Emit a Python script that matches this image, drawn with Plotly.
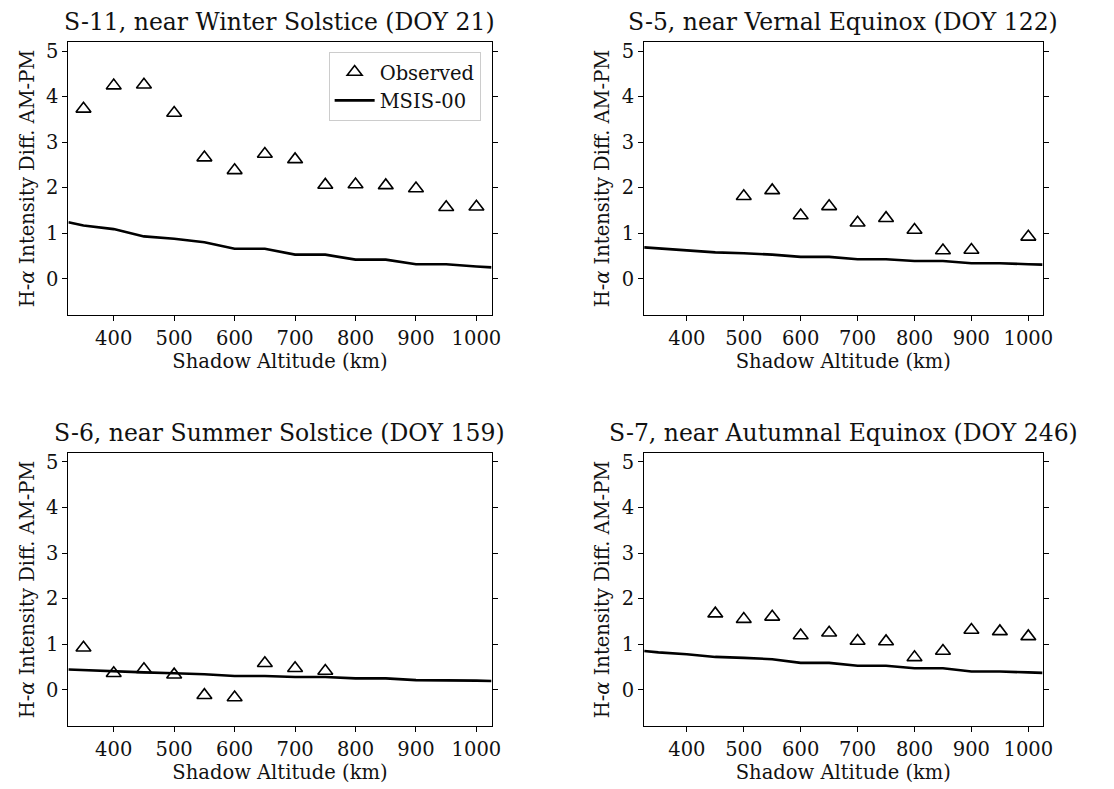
import plotly.graph_objects as go

# Shadow altitude grid (km) for the model curve
alt_model = [325, 350, 400, 450, 500, 550, 600, 650, 700, 750, 800, 850, 900, 950, 1000, 1025]

# S-11, near Winter Solstice (DOY 21)
s11_alt = [350, 400, 450, 500, 550, 600, 650, 700, 750, 800, 850, 900, 950, 1000]
s11_obs = [3.73, 4.24, 4.26, 3.64, 2.66, 2.38, 2.74, 2.62, 2.06, 2.07, 2.05, 1.98, 1.57, 1.58]
s11_msis = [1.24, 1.17, 1.09, 0.93, 0.88, 0.80, 0.66, 0.66, 0.53, 0.53, 0.42, 0.42, 0.32, 0.32, 0.27, 0.25]

# S-5, near Vernal Equinox (DOY 122)
s5_alt = [500, 550, 600, 650, 700, 750, 800, 850, 900, 1000]
s5_obs = [1.81, 1.94, 1.39, 1.59, 1.23, 1.33, 1.07, 0.62, 0.63, 0.92]
s5_msis = [0.69, 0.67, 0.635, 0.58, 0.56, 0.53, 0.48, 0.48, 0.43, 0.43, 0.39, 0.39, 0.34, 0.34, 0.32, 0.31]

# S-6, near Summer Solstice (DOY 159)
s6_alt = [350, 400, 450, 500, 550, 600, 650, 700, 750]
s6_obs = [0.92, 0.36, 0.45, 0.33, -0.12, -0.17, 0.58, 0.47, 0.41]
s6_msis = [0.445, 0.43, 0.41, 0.38, 0.36, 0.34, 0.30, 0.30, 0.28, 0.28, 0.25, 0.25, 0.21, 0.21, 0.20, 0.19]

# S-7, near Autumnal Equinox (DOY 246)
s7_alt = [450, 500, 550, 600, 650, 700, 750, 800, 850, 900, 950, 1000]
s7_obs = [1.67, 1.55, 1.60, 1.19, 1.25, 1.07, 1.06, 0.71, 0.85, 1.31, 1.28, 1.17]
s7_msis = [0.85, 0.82, 0.78, 0.72, 0.70, 0.67, 0.59, 0.59, 0.525, 0.525, 0.47, 0.47, 0.40, 0.40, 0.38, 0.37]

titles = [
    "S-11, near Winter Solstice (DOY 21)",
    "S-5, near Vernal Equinox (DOY 122)",
    "S-6, near Summer Solstice (DOY 159)",
    "S-7, near Autumnal Equinox (DOY 246)",
]
panels = [
    (s11_alt, s11_obs, s11_msis),
    (s5_alt, s5_obs, s5_msis),
    (s6_alt, s6_obs, s6_msis),
    (s7_alt, s7_obs, s7_msis),
]

W, H = 1114, 789
FONT = "DejaVu Serif"
TICK_SIZE = 19.5
TITLE_SIZE = 23.5

# axes boxes in pixels: (left, right, top, bottom)
boxes = [
    (69, 496, 40, 314),
    (650, 1052, 40, 314),
    (69, 496, 452, 726),
    (650, 1052, 452, 726),
]

fig = go.Figure()
annotations = []
for i, ((alt, obs, msis), title, box) in enumerate(zip(panels, titles, boxes)):
    n = "" if i == 0 else str(i + 1)
    left, right, top, bottom = box
    xd = [left / W, right / W]
    yd = [(H - bottom) / H, (H - top) / H]
    axis_common = dict(
        showgrid=False, zeroline=False,
        showline=True, linecolor="black", linewidth=1.3,
        ticks="outside", ticklen=5, tickwidth=1.3, tickcolor="black",
        tickfont=dict(family=FONT, size=TICK_SIZE, color="#111"),
    )
    fig.update_layout(**{
        f"xaxis{n}": dict(
            domain=xd, anchor=f"y{n}", range=[325, 1025],
            tickvals=[400, 500, 600, 700, 800, 900, 1000],
            mirror=True,
            title=dict(text="Shadow Altitude (km)", standoff=4,
                       font=dict(family=FONT, size=TICK_SIZE, color="#111")),
            **axis_common,
        ),
        f"yaxis{n}": dict(
            domain=yd, anchor=f"x{n}", range=[-0.8, 5.2],
            tickvals=[0, 1, 2, 3, 4, 5],
            mirror="ticks",
            title=dict(text="H-<i>α</i> Intensity Diff. AM-PM", standoff=6,
                       font=dict(family=FONT, size=TICK_SIZE, color="#111")),
            **axis_common,
        ),
    })
    fig.add_trace(go.Scatter(
        x=alt, y=obs, mode="markers", name="Observed",
        xaxis=f"x{n}", yaxis=f"y{n}", showlegend=(i == 0),
        marker=dict(symbol="triangle-up-open", size=13, color="black",
                    line=dict(width=1.6, color="black")),
    ))
    fig.add_trace(go.Scatter(
        x=alt_model, y=msis, mode="lines", name="MSIS-00",
        xaxis=f"x{n}", yaxis=f"y{n}", showlegend=(i == 0),
        line=dict(color="black", width=2.6),
    ))
    annotations.append(dict(
        text=title, x=(xd[0] + xd[1]) / 2, y=yd[1], xref="paper", yref="paper",
        xanchor="center", yanchor="bottom", yshift=4, showarrow=False,
        font=dict(family=FONT, size=TITLE_SIZE, color="#111"),
    ))

fig.update_layout(
    width=W, height=H,
    margin=dict(l=0, r=0, t=0, b=0),
    paper_bgcolor="white", plot_bgcolor="white",
    annotations=annotations,
    showlegend=True,
    legend=dict(
        x=485 / W, y=(H - 50) / H, xanchor="right", yanchor="top",
        bgcolor="white", bordercolor="#cccccc", borderwidth=1,
        font=dict(family=FONT, size=TICK_SIZE, color="#111"),
        itemwidth=40, tracegroupgap=2,
    ),
)

fig.write_html("out.html")
